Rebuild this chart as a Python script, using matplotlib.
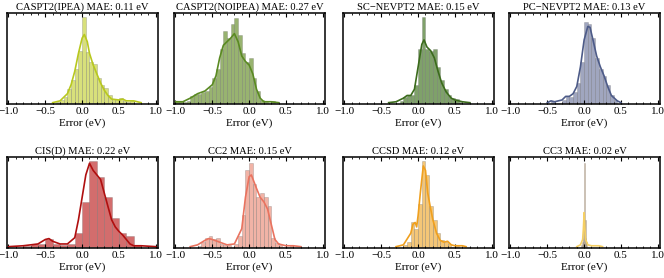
import matplotlib
matplotlib.use("Agg")
import matplotlib.pyplot as plt
from matplotlib.colors import to_rgba
from matplotlib.ticker import MultipleLocator

plt.rcParams['font.family'] = ['Liberation Serif', 'DejaVu Serif']

# panel titles
titles = ['CASPT2(IPEA) MAE: 0.11 eV', 'CASPT2(NOIPEA) MAE: 0.27 eV',
          'SC\u2212NEVPT2 MAE: 0.15 eV', 'PC\u2212NEVPT2 MAE: 0.13 eV',
          'CIS(D) MAE: 0.22 eV', 'CC2 MAE: 0.15 eV',
          'CCSD MAE: 0.12 eV', 'CC3 MAE: 0.02 eV']

# histogram bins: first left edge, bin width, heights (fraction of axis height)
ipea_start, ipea_w = -0.35, 0.05
ipea_h = [0.01, 0.03, 0.06, 0.15, 0.25, 0.38, 0.58, 0.95, 0.56, 0.45, 0.43,
          0.27, 0.20, 0.16, 0.08, 0.04, 0.03, 0.05, 0.02, 0.01, 0.02]
ipea_kx = [-0.4, -0.3, -0.2, -0.15, -0.1, -0.05, 0.0, 0.03, 0.07, 0.1, 0.15, 0.2,
           0.25, 0.3, 0.35, 0.4, 0.5, 0.55, 0.6, 0.7, 0.8]
ipea_ky = [0.0, 0.02, 0.1, 0.2, 0.35, 0.55, 0.72, 0.76, 0.68, 0.55, 0.42, 0.32,
           0.22, 0.14, 0.08, 0.04, 0.03, 0.04, 0.02, 0.02, 0.0]

noipea_start, noipea_w = -1.0, 0.05
noipea_h = [0.02, 0.02, 0.01, 0.02, 0.07, 0.10, 0.10, 0.12, 0.13, 0.17, 0.27,
            0.37, 0.60, 0.80, 0.72, 0.88, 0.94, 0.75, 0.55, 0.45, 0.50, 0.27,
            0.13, 0.03, 0.01, 0.0, 0.02]
noipea_kx = [-1.0, -0.9, -0.8, -0.7, -0.6, -0.5, -0.45, -0.4, -0.35, -0.3, -0.25,
             -0.2, -0.15, -0.1, -0.05, 0.0, 0.05, 0.1, 0.15, 0.2, 0.3, 0.4]
noipea_ky = [0.01, 0.01, 0.05, 0.10, 0.13, 0.20, 0.30, 0.50, 0.64, 0.68, 0.72,
             0.77, 0.68, 0.52, 0.46, 0.42, 0.32, 0.15, 0.05, 0.01, 0.01, 0.0]

sc_start, sc_w = -0.25, 0.05
sc_h = [0.02, 0.06, 0.08, 0.08, 0.20, 0.60, 0.95, 0.60, 0.58, 0.60, 0.40,
        0.25, 0.15, 0.08, 0.05, 0.04, 0.01]
sc_kx = [-0.4, -0.3, -0.2, -0.15, -0.1, -0.05, 0.0, 0.05, 0.08, 0.12, 0.17, 0.22,
         0.27, 0.32, 0.38, 0.45, 0.5, 0.6, 0.7]
sc_ky = [0.0, 0.01, 0.05, 0.08, 0.08, 0.15, 0.40, 0.65, 0.70, 0.62, 0.58, 0.50,
         0.35, 0.22, 0.12, 0.05, 0.03, 0.01, 0.0]

pc_start, pc_w = -0.45, 0.05
pc_h = [0.02, 0.0, 0.0, 0.03, 0.07, 0.06, 0.12, 0.22, 0.45, 0.90, 0.88, 0.72,
        0.50, 0.38, 0.30, 0.20, 0.08, 0.03]
pc_kx = [-0.5, -0.45, -0.4, -0.3, -0.25, -0.2, -0.15, -0.1, -0.05, 0.0, 0.05,
         0.08, 0.12, 0.17, 0.22, 0.27, 0.32, 0.37, 0.45, 0.5]
pc_ky = [0.0, 0.02, 0.01, 0.03, 0.07, 0.07, 0.10, 0.18, 0.40, 0.70, 0.85, 0.84,
         0.70, 0.52, 0.40, 0.30, 0.18, 0.08, 0.02, 0.0]

cisd_start, cisd_w = -0.8, 0.1
cisd_h = [0.01, 0.03, 0.03, 0.08, 0.03, 0.02, 0.03, 0.15, 0.50, 0.95, 0.78,
          0.55, 0.32, 0.15, 0.12, 0.02]
cisd_kx = [-1.0, -0.8, -0.6, -0.5, -0.45, -0.4, -0.3, -0.2, -0.1, -0.05, 0.0,
           0.05, 0.1, 0.15, 0.2, 0.25, 0.3, 0.35, 0.4, 0.45, 0.5, 0.55, 0.6,
           0.65, 0.7, 0.8, 1.0]
cisd_ky = [0.0, 0.01, 0.03, 0.08, 0.09, 0.06, 0.03, 0.03, 0.10, 0.30, 0.55,
           0.80, 0.93, 0.85, 0.80, 0.75, 0.60, 0.45, 0.30, 0.22, 0.17, 0.13,
           0.08, 0.03, 0.01, 0.01, 0.0]

cc2_start, cc2_w = -0.7, 0.05
cc2_h = [0.01, 0.05, 0.10, 0.12, 0.08, 0.10, 0.03, 0.02, 0.02, 0.0, 0.03, 0.12,
         0.35, 0.85, 0.93, 0.70, 0.55, 0.60, 0.55, 0.45, 0.10, 0.04, 0.02,
         0.0, 0.0, 0.02]
cc2_kx = [-0.8, -0.7, -0.6, -0.55, -0.5, -0.4, -0.3, -0.2, -0.1, -0.05, 0.0,
          0.03, 0.1, 0.15, 0.2, 0.25, 0.3, 0.35, 0.4, 0.5, 0.6, 0.7]
cc2_ky = [0.0, 0.02, 0.07, 0.09, 0.08, 0.05, 0.02, 0.03, 0.20, 0.55, 0.78,
          0.80, 0.65, 0.55, 0.50, 0.42, 0.25, 0.08, 0.03, 0.01, 0.01, 0.0]

ccsd_start, ccsd_w = -0.2, 0.05
ccsd_h = [0.02, 0.05, 0.27, 0.20, 0.48, 0.95, 0.80, 0.45, 0.30, 0.15, 0.07,
          0.05, 0.03, 0.0, 0.01]
ccsd_kx = [-0.3, -0.2, -0.1, -0.07, -0.04, -0.02, 0.0, 0.03, 0.07, 0.1, 0.13,
           0.17, 0.2, 0.25, 0.3, 0.35, 0.4, 0.45, 0.5, 0.6, 0.65]
ccsd_ky = [0.0, 0.02, 0.15, 0.25, 0.27, 0.22, 0.35, 0.60, 0.90, 0.85, 0.60,
           0.42, 0.30, 0.15, 0.07, 0.05, 0.06, 0.02, 0.01, 0.01, 0.0]

cc3_start, cc3_w = -0.04, 0.01
cc3_h = [0.02, 0.05, 0.10, 0.35, 0.93, 0.30, 0.10, 0.05]
cc3_kx = [-0.1, -0.05, -0.02, -0.01, 0.0, 0.01, 0.02, 0.05, 0.1, 0.2, 0.25]
cc3_ky = [0.0, 0.02, 0.08, 0.20, 0.38, 0.20, 0.08, 0.02, 0.01, 0.01, 0.0]

hists = [(ipea_start, ipea_w, ipea_h, ipea_kx, ipea_ky),
         (noipea_start, noipea_w, noipea_h, noipea_kx, noipea_ky),
         (sc_start, sc_w, sc_h, sc_kx, sc_ky),
         (pc_start, pc_w, pc_h, pc_kx, pc_ky),
         (cisd_start, cisd_w, cisd_h, cisd_kx, cisd_ky),
         (cc2_start, cc2_w, cc2_h, cc2_kx, cc2_ky),
         (ccsd_start, ccsd_w, ccsd_h, ccsd_kx, ccsd_ky),
         (cc3_start, cc3_w, cc3_h, cc3_kx, cc3_ky)]

# (bar colour, line colour)
colors = [('#cfd95a', '#b8c81e'), ('#7ea04c', '#5a8a22'),
          ('#5f8a45', '#3b6b1c'), ('#8890b0', '#4d5b88'),
          ('#c84848', '#b00f0f'), ('#eea090', '#ea735f'),
          ('#f2b855', '#f0a01e'), ('#d8b890', '#f5cf63')]

W, H = 664, 278
lefts = [7, 174, 343, 509]
tops = [13, 157]
aw, ah = 151, 91

fig = plt.figure(figsize=(W / 100, H / 100), dpi=100)

for i, (start, w, hts, kx, ky) in enumerate(hists):
    r, c = divmod(i, 4)
    ax = fig.add_axes([lefts[c] / W, 1 - (tops[r] + ah) / H, aw / W, ah / H])
    edges = [start + k * w for k in range(len(hts))]
    bar_c, line_c = colors[i]
    ax.bar(edges, hts, width=w, align='edge', color=to_rgba(bar_c, 0.8),
           edgecolor=to_rgba('#606060', 0.35), linewidth=0.5)
    ax.plot(kx, ky, color=line_c, lw=1.2)
    ax.set_xlim(-1.02, 1.03)
    ax.set_ylim(-0.015, 1.0)
    ax.set_yticks([])
    ax.xaxis.set_major_locator(MultipleLocator(0.5))
    ax.xaxis.set_minor_locator(MultipleLocator(0.1))
    ax.tick_params(axis='x', which='both', direction='in', top=True,
                   labelsize=8, pad=2)
    ax.tick_params(axis='x', which='major', length=3, width=0.8)
    ax.tick_params(axis='x', which='minor', length=1.5, width=0.6)
    for s in ax.spines.values():
        s.set_linewidth(1.1)
    ax.set_title(titles[i], fontsize=7.6, pad=2)
    ax.set_xlabel('Error (eV)', fontsize=8, labelpad=2)

fig.savefig('out.png', dpi=100)
